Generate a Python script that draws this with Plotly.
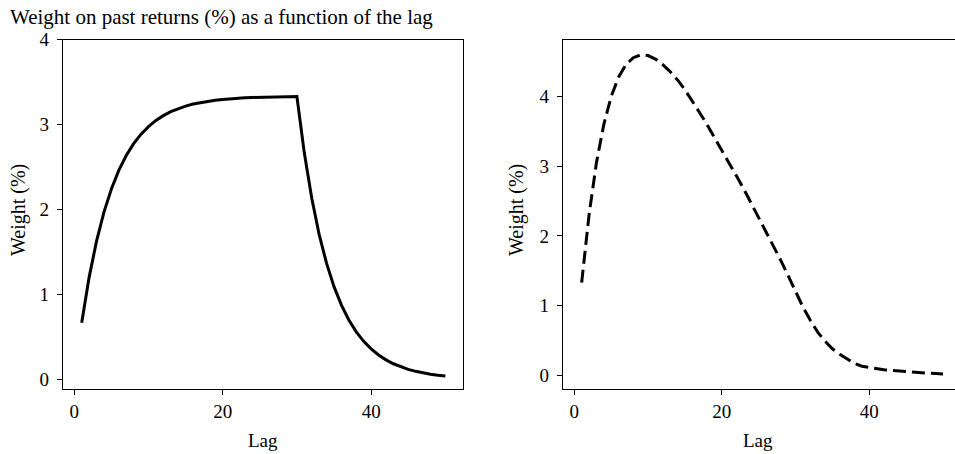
import plotly.graph_objects as go

lags = list(range(1, 51))

# Left panel: solid line (weight %)
weights_left = [
    0.667, 1.200, 1.627, 1.968, 2.241, 2.460, 2.634, 2.774, 2.886, 2.975,
    3.047, 3.104, 3.150, 3.187, 3.216, 3.240, 3.258, 3.273, 3.285, 3.295,
    3.303, 3.309, 3.314, 3.318, 3.321, 3.323, 3.325, 3.327, 3.328, 3.329,
    2.663, 2.131, 1.704, 1.364, 1.091, 0.873, 0.698, 0.559, 0.447, 0.358,
    0.286, 0.229, 0.183, 0.146, 0.117, 0.094, 0.075, 0.060, 0.048, 0.038,
]

# Right panel: dashed line (weight %)
weights_right = [
    1.33, 2.30, 3.05, 3.60, 4.00, 4.28, 4.46, 4.56, 4.60, 4.59,
    4.54, 4.46, 4.36, 4.24, 4.10, 3.94, 3.77, 3.60, 3.42, 3.24,
    3.05, 2.86, 2.67, 2.47, 2.27, 2.07, 1.86, 1.65, 1.43, 1.20,
    0.98, 0.79, 0.62, 0.49, 0.38, 0.30, 0.23, 0.17, 0.13, 0.11,
    0.09, 0.08, 0.07, 0.06, 0.05, 0.04, 0.035, 0.03, 0.025, 0.02,
]

title_text = "Weight on past returns (%) as a function of the lag"
x_label = "Lag"
y_label = "Weight (%)"
x_ticks = [0, 20, 40]
y_ticks_left = [0, 1, 2, 3, 4]
y_ticks_right = [0, 1, 2, 3, 4]

W, H = 955, 454
FONT = "Liberation Serif, Times New Roman, serif"


def px_x(p):
    return p / W


def px_y(p):
    return (H - p) / H


fig = go.Figure()
fig.add_trace(go.Scatter(x=lags, y=weights_left, mode="lines",
                         line=dict(color="black", width=3),
                         xaxis="x", yaxis="y", showlegend=False,
                         hoverinfo="skip"))
fig.add_trace(go.Scatter(x=lags, y=weights_right, mode="lines",
                         line=dict(color="black", width=3, dash="13px,6px"),
                         xaxis="x2", yaxis="y2", showlegend=False,
                         hoverinfo="skip"))

axis_common = dict(
    showgrid=False, zeroline=False, showline=True, linecolor="black",
    linewidth=1.2, ticks="outside", ticklen=5, tickwidth=1.2,
    tickcolor="black", tickfont=dict(family=FONT, size=19, color="black"),
    automargin=False,
)

y_dom = [px_y(389), px_y(39.5)]

fig.update_layout(
    template="none",
    width=W, height=H,
    margin=dict(l=0, r=0, t=0, b=0, pad=0),
    paper_bgcolor="white", plot_bgcolor="white",
    xaxis=dict(domain=[px_x(63), px_x(463)], range=[-1.52, 52.38],
               tickvals=x_ticks, mirror=True, anchor="y", **axis_common),
    yaxis=dict(domain=y_dom, range=[-0.114, 4.0], tickvals=y_ticks_left,
               mirror=True, anchor="x", ticklabelstandoff=4, **axis_common),
    xaxis2=dict(domain=[px_x(563), 1.0], range=[-1.53, 51.62],
                tickvals=x_ticks, mirror=True, anchor="y2", **axis_common),
    yaxis2=dict(domain=y_dom, range=[-0.197, 4.821], tickvals=y_ticks_right,
                mirror=False, anchor="x2", ticklabelstandoff=4, **axis_common),
    annotations=[
        dict(text=title_text, xref="paper", yref="paper", x=px_x(8),
             y=px_y(17), xanchor="left", yanchor="middle", showarrow=False,
             font=dict(family=FONT, size=21, color="black")),
        dict(text=x_label, xref="paper", yref="paper", x=px_x(263),
             y=px_y(440), xanchor="center", yanchor="middle", showarrow=False,
             font=dict(family=FONT, size=19, color="black")),
        dict(text=x_label, xref="paper", yref="paper", x=px_x(758),
             y=px_y(440), xanchor="center", yanchor="middle", showarrow=False,
             font=dict(family=FONT, size=19, color="black")),
        dict(text=y_label, xref="paper", yref="paper", x=px_x(18),
             y=px_y(210), xanchor="center", yanchor="middle", showarrow=False,
             textangle=-90, font=dict(family=FONT, size=20, color="black")),
        dict(text=y_label, xref="paper", yref="paper", x=px_x(516),
             y=px_y(210), xanchor="center", yanchor="middle", showarrow=False,
             textangle=-90, font=dict(family=FONT, size=20, color="black")),
    ],
)

fig.write_html("out.html")
